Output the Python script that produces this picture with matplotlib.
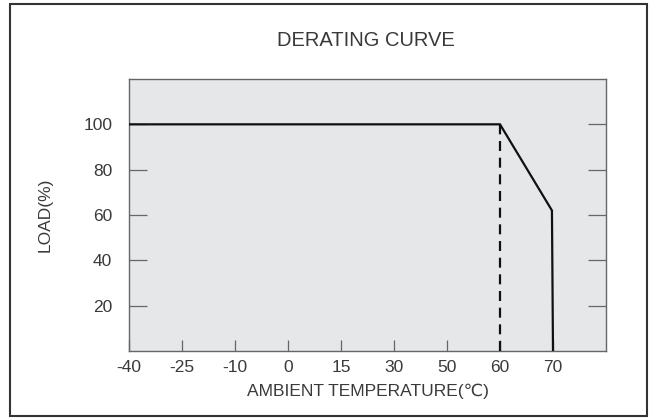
import matplotlib.pyplot as plt
import numpy as np
from matplotlib.patches import Rectangle

plt.rcParams["font.family"] = ["Liberation Sans", "DejaVu Sans"]

# temperature ticks sit at evenly spaced positions (category-like axis)
temp_ticks = [-40, -25, -10, 0, 15, 30, 50, 60, 70]
load_ticks = [20, 40, 60, 80, 100]

# derating curve
curve_temp = [-40, 60, 69.8, 70.2]
curve_load = [100, 100, 62, 0]

# dashed marker at 60 C
dash_temp = [60, 60]
dash_load = [0, 100]

pos = np.arange(len(temp_ticks))


def to_pos(t):
    return np.interp(t, temp_ticks, pos)


fig = plt.figure(figsize=(6.49, 4.18), dpi=100)
ax = fig.add_axes([129 / 649, 1 - 351 / 418, 477 / 649, 272 / 418])
ax.set_facecolor("#e6e7e9")

ax.plot(to_pos(curve_temp), curve_load, color="#111111", lw=1.6,
        solid_joinstyle="miter", zorder=3)
ax.plot(to_pos(dash_temp), dash_load, color="#111111", lw=1.6,
        dashes=(4.5, 3), zorder=3)

ax.set_xlim(0, 9)
ax.set_ylim(0, 120)
ax.set_xticks(pos)
ax.set_xticklabels([str(t) for t in temp_ticks])
ax.set_yticks(load_ticks)
ax.set_yticklabels([str(v) for v in load_ticks])

ax.tick_params(axis="x", direction="in", length=8, width=0.9, color="#666666",
               labelsize=12.5, labelcolor="#3a3a3a", pad=6.5)
ax.tick_params(axis="y", direction="in", length=13, width=0.9, color="#666666",
               labelsize=12.5, labelcolor="#3a3a3a", right=True, pad=12)
for s in ax.spines.values():
    s.set_color("#666666")
    s.set_linewidth(1.0)

ax.set_xlabel("AMBIENT TEMPERATURE(\u2103)", fontsize=12.5, color="#3a3a3a",
              labelpad=6)
ax.set_ylabel("LOAD(%)", fontsize=12.5, color="#3a3a3a", labelpad=22)
fig.text(366 / 649, 1 - 40 / 418, "DERATING CURVE", fontsize=14.5,
         color="#3a3a3a", ha="center", va="center")

# outer frame
fig.patches.append(Rectangle((10 / 649, 2 / 418), 637 / 649, 412 / 418,
                             transform=fig.transFigure, fill=False,
                             edgecolor="#333333", lw=1.5))

fig.savefig("out.png", dpi=100)
